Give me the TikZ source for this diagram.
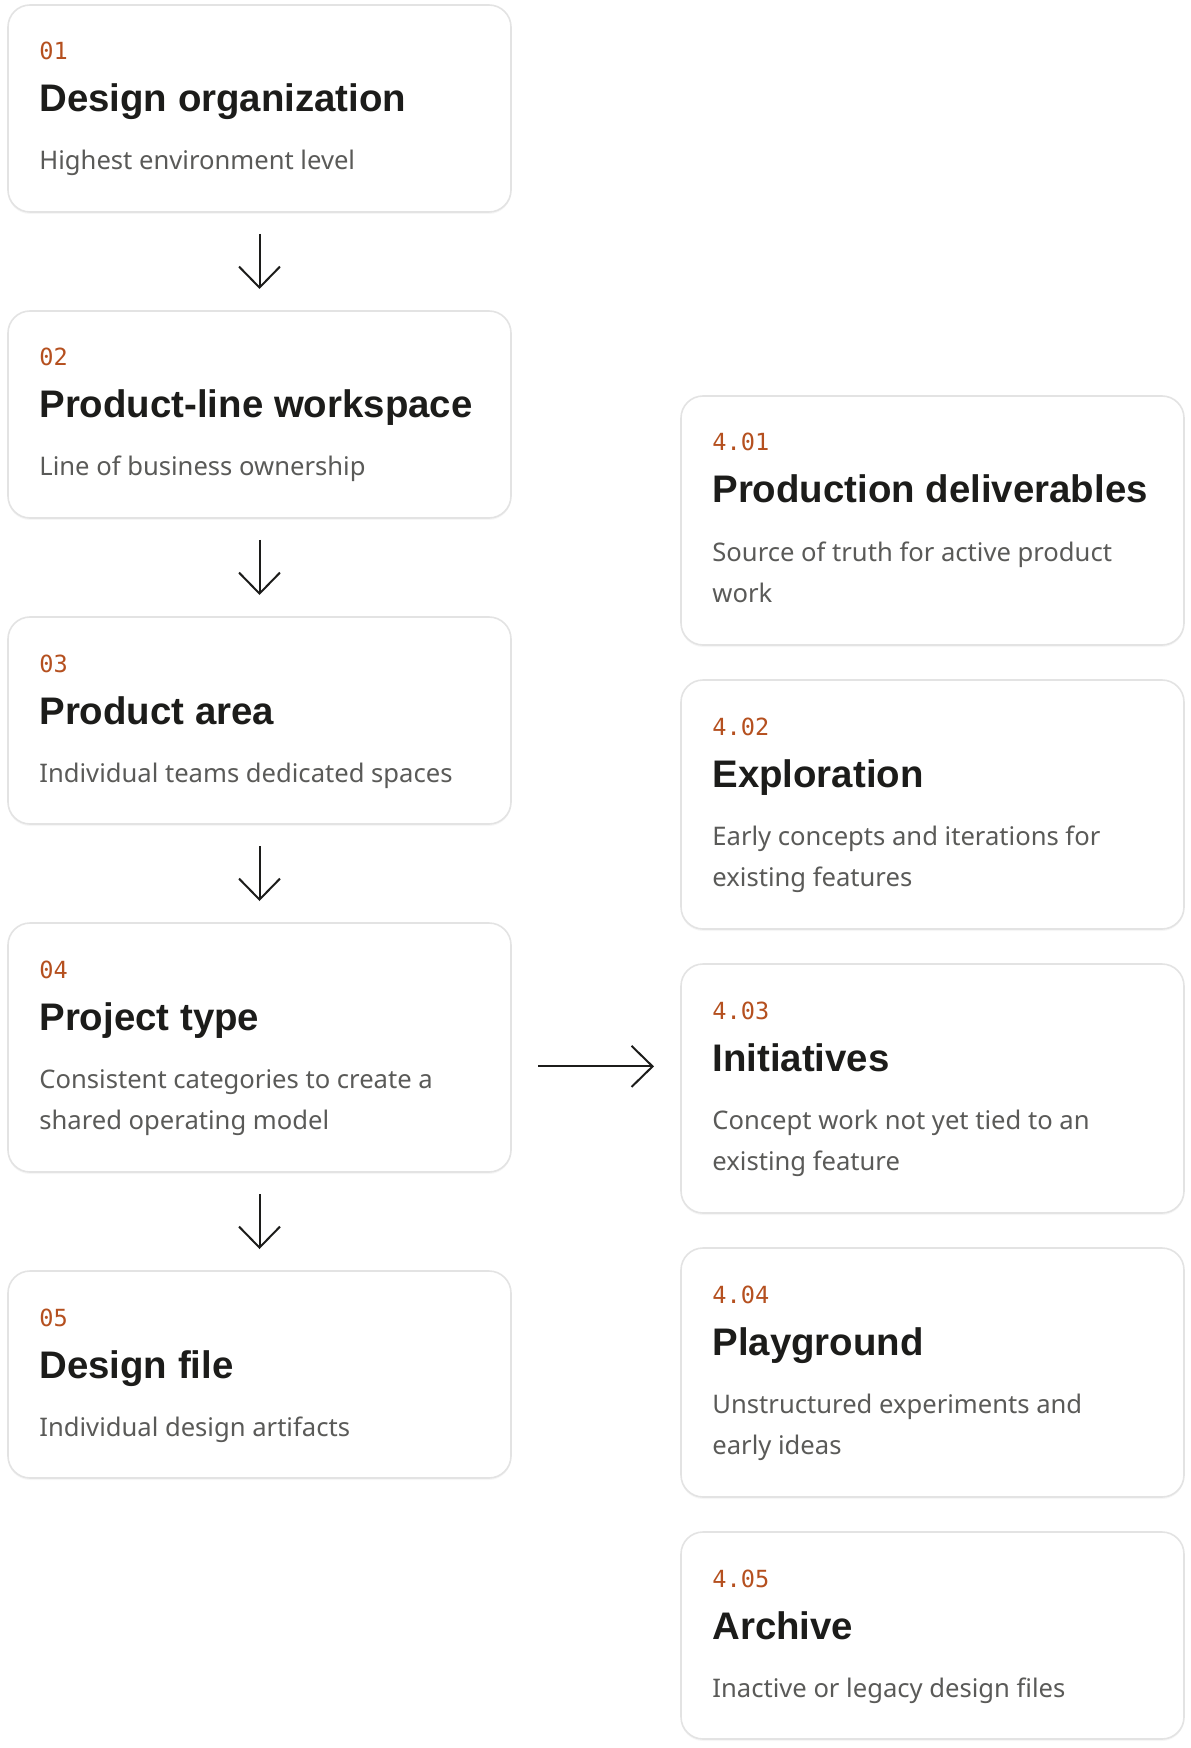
\documentclass[tikz,border=0pt]{standalone}
\usepackage{fontspec}
\setmainfont{Noto Sans}
\newfontfamily\headfont{Liberation Sans}
\newfontfamily\monofont{DejaVu Sans Mono}
\usetikzlibrary{arrows.meta,positioning,shadows,calc}
\definecolor{accent}{HTML}{B5501F}
\definecolor{ink}{HTML}{1C1C1A}
\definecolor{muted}{HTML}{5A5A58}
\definecolor{cardline}{HTML}{E3E3E3}

\begin{document}
\begin{tikzpicture}[x=0.5pt, y=-0.5pt, node distance=49.5pt,
    card/.style={draw=cardline, line width=0.8pt, fill=white, rounded corners=11pt,
      minimum width=251.5pt, minimum height=103.5pt, inner sep=0pt, outer sep=0pt,
      drop shadow={shadow xshift=0pt, shadow yshift=-1pt, opacity=.07}},
    tall/.style={minimum height=124.5pt},
    num/.style={anchor=base west, inner sep=0pt, text=accent, font=\monofont\fontsize{11.8}{14}\selectfont},
    ttl/.style={anchor=base west, inner sep=0pt, text=ink, font=\headfont\bfseries\fontsize{19.2}{22}\selectfont},
    txt/.style={anchor=base west, inner sep=0pt, text=muted, align=left, font=\fontsize{12.8}{20.75}\selectfont},
    arr/.style={-{Straight Barb[length=10.5pt,width=20.5pt]}, line width=1pt, draw=ink}]

  \useasboundingbox (0,0) rectangle (1190,1748);

  % left column
  \node[card, anchor=north west] (1) at (8,5) {};
  \node[card] (2) [below=of 1] {};
  \node[card] (3) [below=of 2] {};
  \node[card, tall] (4) [below=of 3] {};
  \node[card] (5) [below=of 4] {};

  % right column
  \node[card, tall, anchor=north west] (41) at (681,396) {};
  \node[card, tall] (42) [below=17.5pt of 41] {};
  \node[card, tall] (43) [below=17.5pt of 42] {};
  \node[card, tall] (44) [below=17.5pt of 43] {};
  \node[card] (45) [below=17.5pt of 44] {};

  \node[num] (n1) at ([shift={(31,55)}]1.north west) {01};
  \node[ttl] (t1) at ([shift={(31,107)}]1.north west) {Design organization};
  \node[txt] (d1) at ([shift={(31,165)}]1.north west) {Highest environment level};

  \node[num] (n2) at ([shift={(31,55)}]2.north west) {02};
  \node[ttl] (t2) at ([shift={(31,107)}]2.north west) {Product-line workspace};
  \node[txt] (d2) at ([shift={(31,165)}]2.north west) {Line of business ownership};

  \node[num] (n3) at ([shift={(31,55)}]3.north west) {03};
  \node[ttl] (t3) at ([shift={(31,107)}]3.north west) {Product area};
  \node[txt] (d3) at ([shift={(31,165)}]3.north west) {Individual teams dedicated spaces};

  \node[num] (n4) at ([shift={(31,55)}]4.north west) {04};
  \node[ttl] (t4) at ([shift={(31,107)}]4.north west) {Project type};
  \node[txt] (d4) at ([shift={(31,206.5)}]4.north west) {Consistent categories to create a\\shared operating model};

  \node[num] (n5) at ([shift={(31,55)}]5.north west) {05};
  \node[ttl] (t5) at ([shift={(31,107)}]5.north west) {Design file};
  \node[txt] (d5) at ([shift={(31,165)}]5.north west) {Individual design artifacts};

  \node[num] (n41) at ([shift={(31,55)}]41.north west) {4.01};
  \node[ttl] (t41) at ([shift={(31,107)}]41.north west) {Production deliverables};
  \node[txt] (d41) at ([shift={(31,206.5)}]41.north west) {Source of truth for active product\\work};

  \node[num] (n42) at ([shift={(31,55)}]42.north west) {4.02};
  \node[ttl] (t42) at ([shift={(31,107)}]42.north west) {Exploration};
  \node[txt] (d42) at ([shift={(31,206.5)}]42.north west) {Early concepts and iterations for\\existing features};

  \node[num] (n43) at ([shift={(31,55)}]43.north west) {4.03};
  \node[ttl] (t43) at ([shift={(31,107)}]43.north west) {Initiatives};
  \node[txt] (d43) at ([shift={(31,206.5)}]43.north west) {Concept work not yet tied to an\\existing feature};

  \node[num] (n44) at ([shift={(31,55)}]44.north west) {4.04};
  \node[ttl] (t44) at ([shift={(31,107)}]44.north west) {Playground};
  \node[txt] (d44) at ([shift={(31,206.5)}]44.north west) {Unstructured experiments and\\early ideas};

  \node[num] (n45) at ([shift={(31,55)}]45.north west) {4.05};
  \node[ttl] (t45) at ([shift={(31,107)}]45.north west) {Archive};
  \node[txt] (d45) at ([shift={(31,165)}]45.north west) {Inactive or legacy design files};

  % arrows
  \draw[arr] ([yshift=-11pt]1.south) -- ([yshift=11pt]2.north);
  \draw[arr] ([yshift=-11pt]2.south) -- ([yshift=11pt]3.north);
  \draw[arr] ([yshift=-11pt]3.south) -- ([yshift=11pt]4.north);
  \draw[arr] ([yshift=-11pt]4.south) -- ([yshift=11pt]5.north);
  \coordinate (m) at ([yshift=0.8pt]$(4.east)!.5!(43.west)$);
  \draw[arr] ([xshift=-29pt]m) -- ([xshift=29pt]m);
\end{tikzpicture}
\end{document}
